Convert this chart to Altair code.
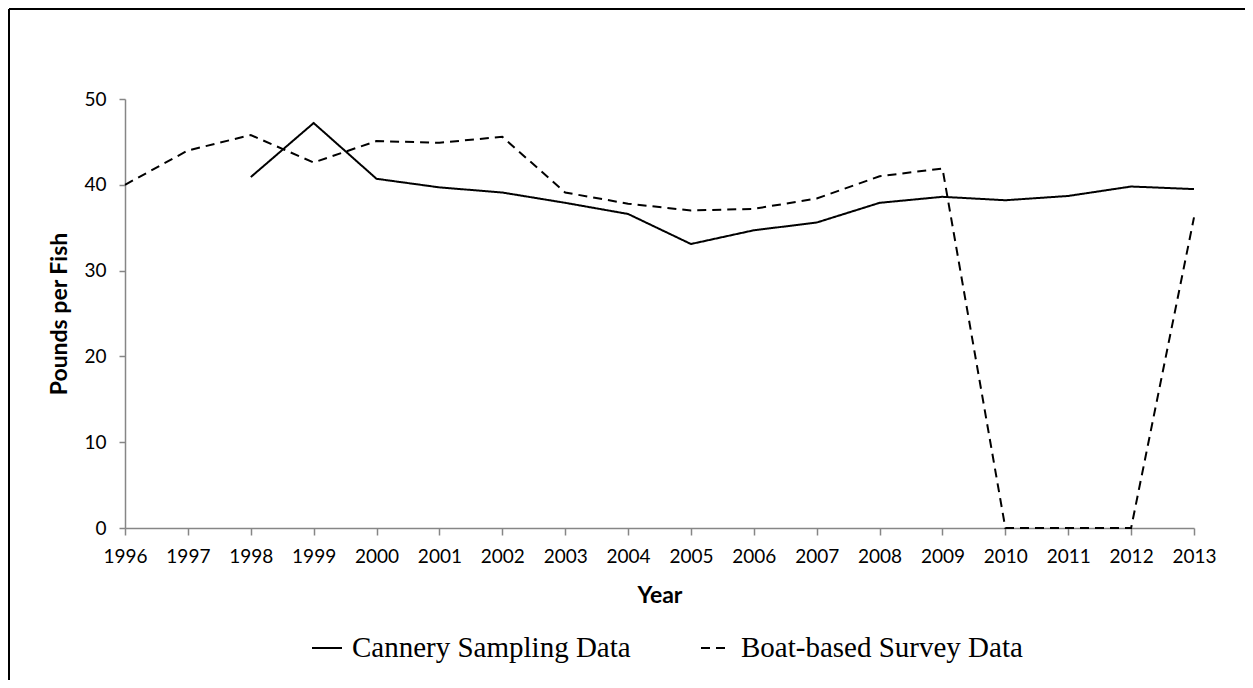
import altair as alt
import pandas as pd

years = list(range(1996, 2014))
cannery = [None, None, 40.9, 47.2, 40.7, 39.7, 39.1, 37.9, 36.6, 33.1, 34.7, 35.6, 37.9, 38.6, 38.2, 38.7, 39.8, 39.5]
boat = [40.0, 44.0, 45.8, 42.6, 45.1, 44.9, 45.6, 39.1, 37.8, 37.0, 37.2, 38.4, 41.0, 41.9, 0.0, 0.0, 0.0, 36.2]
series_names = ["Cannery Sampling Data", "Boat-based Survey Data"]
y_ticks = [0, 10, 20, 30, 40, 50]

rows = []
for name, vals in zip(series_names, [cannery, boat]):
    for yr, v in zip(years, vals):
        if v is not None:
            rows.append({"Year": yr, "Value": v, "Series": name})
df = pd.DataFrame(rows)

axis_gray = "#868686"

lines = alt.Chart(df).mark_line(color="black", strokeWidth=2).encode(
    x=alt.X("Year:Q",
            scale=alt.Scale(domain=[1996, 2013], nice=False, zero=False),
            axis=alt.Axis(values=years, format="d", title="Year",
                          labelFont="Lato", labelFontSize=19, labelColor="black",
                          labelPadding=12, tickSize=7, tickColor=axis_gray, tickWidth=1.5,
                          domainColor=axis_gray, domainWidth=1.5,
                          titleFont="Lato", titleFontSize=23, titleFontWeight="bold",
                          titleColor="black", titlePadding=18, labelFlush=False)),
    y=alt.Y("Value:Q",
            scale=alt.Scale(domain=[0, 50], nice=False),
            axis=alt.Axis(values=y_ticks, title="Pounds per Fish",
                          labelFont="Lato", labelFontSize=19, labelColor="black",
                          labelPadding=13, tickSize=6, tickColor=axis_gray, tickWidth=1.5,
                          domainColor=axis_gray, domainWidth=1.5,
                          titleFont="Lato", titleFontSize=23, titleFontWeight="bold",
                          titleColor="black", titlePadding=12)),
    strokeDash=alt.StrokeDash("Series:N",
                              scale=alt.Scale(domain=series_names, range=[[1, 0], [9, 6]]),
                              legend=alt.Legend(orient="none", legendX=186, legendY=533,
                                                direction="horizontal", title=None,
                                                symbolType="stroke", symbolSize=900,
                                                symbolStrokeWidth=2, symbolStrokeColor="black",
                                                labelFont="Liberation Serif", labelFontSize=29,
                                                labelColor="black", labelOffset=9,
                                                columnPadding=66, padding=0, labelLimit=0)),
)

frame_src = pd.DataFrame({"f": [0]})
frame_left = alt.Chart(frame_src).mark_rule(color="black", strokeWidth=2).encode(
    x=alt.value(-116), y=alt.value(-90), y2=alt.value(800)
)
frame_top = alt.Chart(frame_src).mark_rule(color="black", strokeWidth=2).encode(
    x=alt.value(-116), x2=alt.value(1400), y=alt.value(-90)
)

chart = alt.layer(frame_left, frame_top, lines).properties(
    width=1069, height=429,
    autosize=alt.AutoSizeParams(type="none"),
    padding={"left": 117, "top": 91, "right": 51, "bottom": 152},
    background="white",
).configure_view(stroke=None).configure_axis(grid=False)

chart.save("out.html", embed_options={"renderer": "svg", "actions": False})
